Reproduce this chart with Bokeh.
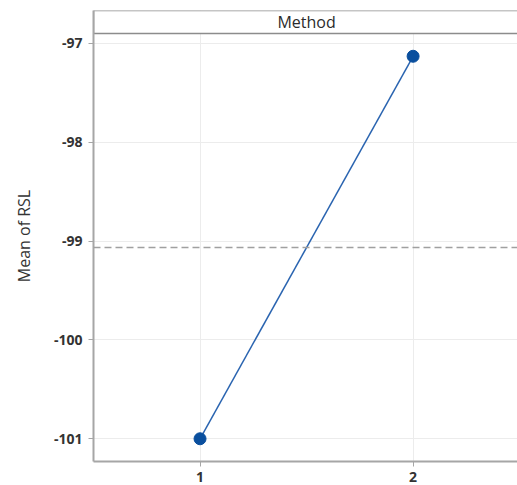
import numpy as np
from bokeh.plotting import figure
from bokeh.models import FixedTicker, Span, Range1d, Label, PrintfTickFormatter
from bokeh.embed import file_html
from bokeh.resources import INLINE

# data
levels = [1, 2]
means = [-101.0, -97.13]
y_ticks = [-101, -100, -99, -98, -97]
panel_title = "Method"
y_title = "Mean of RSL"

grand_mean = float(np.mean(means))

y_lo, y_panel_top, y_strip_top = -101.23, -96.9, -96.667
x_lo, x_hi = 0.5, 2.49

p = figure(width=517, height=485, output_backend="svg", toolbar_location=None,
           x_range=Range1d(x_lo, x_hi), y_range=Range1d(y_lo, y_strip_top),
           min_border_left=93, min_border_right=0, min_border_top=10, min_border_bottom=24)
p.outline_line_color = None
p.background_fill_color = "white"
p.border_fill_color = "white"

# grid
for g in (p.xgrid, p.ygrid):
    g.grid_line_color = "#ececec"
    g.grid_line_width = 1
p.xgrid.ticker = FixedTicker(ticks=levels)
p.ygrid.ticker = FixedTicker(ticks=y_ticks)

# axes
p.xaxis.ticker = FixedTicker(ticks=levels)
p.yaxis.ticker = FixedTicker(ticks=y_ticks)
p.yaxis.formatter = PrintfTickFormatter(format="%d")
p.xaxis.formatter = PrintfTickFormatter(format="%d")
for ax in (p.xaxis, p.yaxis):
    ax.axis_line_color = "#a6a6a6"
    ax.axis_line_width = 2
    ax.major_tick_line_color = "#a6a6a6"
    ax.major_tick_out = 5
    ax.major_tick_in = 0
    ax.minor_tick_line_color = None
    ax.major_label_text_font = "Open Sans"
    ax.major_label_text_font_size = "14px"
    ax.major_label_text_font_style = "bold"
    ax.major_label_text_color = "#333333"
p.yaxis.axis_label = y_title
p.yaxis.axis_label_text_font = "Open Sans"
p.yaxis.axis_label_text_font_size = "16px"
p.yaxis.axis_label_text_font_style = "normal"
p.yaxis.axis_label_text_color = "#333333"
p.yaxis.axis_label_standoff = 16
p.yaxis.major_label_standoff = 6
p.xaxis.major_label_standoff = 5

# strip (extends past the right edge, as in the reference)
p.quad(left=[x_lo], right=[x_hi + 0.1], bottom=[y_panel_top], top=[y_strip_top],
       fill_color="white", line_color="#8c8c8c", line_width=1.5)
p.add_layout(Label(x=(x_lo + 2.5) / 2, y=(y_panel_top + y_strip_top) / 2, text=panel_title,
                   text_align="center", text_baseline="middle", text_font="Open Sans",
                   text_font_size="16px", text_color="#2b2b2b"))

# reference line
p.add_layout(Span(location=grand_mean, dimension="width", line_color="#a0a0a0",
                  line_width=1.5, line_dash="7 4"))

# data
p.line(levels, means, line_color="#2a64b0", line_width=1.5)
p.scatter(levels, means, size=12, marker="circle", fill_color="#0a4f9e", line_color="#0a4f9e")

open("out.html", "w").write(file_html(p, INLINE))
